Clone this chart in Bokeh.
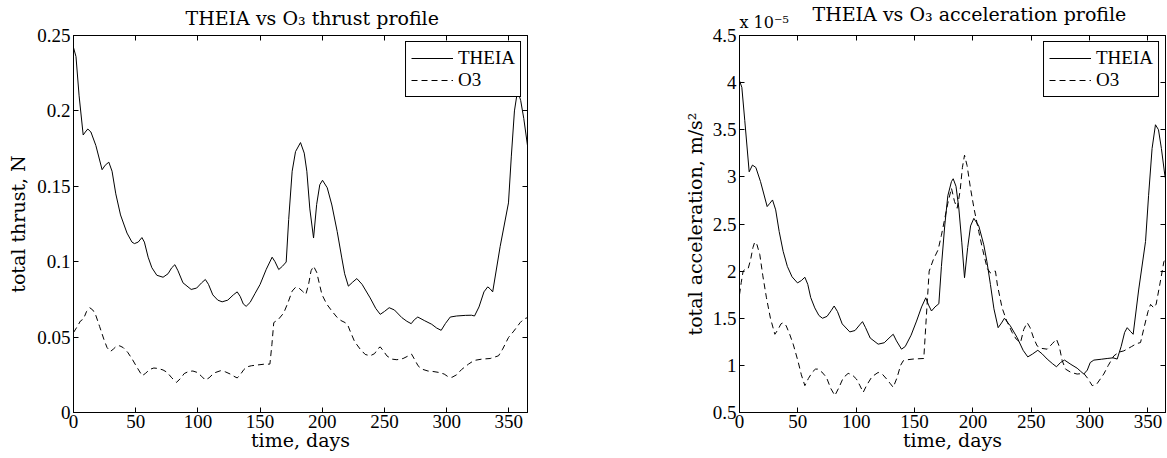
from bokeh.plotting import figure
from bokeh.layouts import row
from bokeh.models import (Range1d, FixedTicker, CustomJSTickFormatter, LinearAxis,
                          Legend, LegendItem)
from bokeh.embed import file_html
from bokeh.resources import INLINE

# ---------------- data ----------------
theia_thrust_day = [0, 2, 4.5, 7.8, 9.5, 11.5, 14, 18, 23, 25.5, 28.4, 31, 34, 37.8, 43, 47, 49, 52, 55, 57, 60, 63, 67, 72, 76, 79, 81.5, 84, 88, 94.6, 99, 103, 106, 108.5, 112, 116, 119.5, 124, 128.5, 131.6, 134, 136.5, 138.8, 142, 146, 150, 155, 159.7, 162, 165, 168, 171, 173, 175.8, 178.5, 182.5, 185.5, 187.6, 190, 193, 195.5, 198, 200.2, 204, 207.7, 212, 215.7, 218, 221, 224.5, 227.8, 232, 238.5, 243, 246.6, 250, 253.8, 258, 264, 268, 271.5, 274, 276.8, 282, 288, 292, 295.6, 299, 302.9, 308, 315, 320, 322.4, 326, 330, 333, 335, 337, 343, 349.7, 352, 354.5, 357, 359.5, 362, 365]
theia_thrust = [0.242, 0.236, 0.21, 0.184, 0.186, 0.188, 0.186, 0.177, 0.161, 0.164, 0.166, 0.16, 0.145, 0.131, 0.119, 0.113, 0.112, 0.113, 0.116, 0.113, 0.103, 0.096, 0.091, 0.0897, 0.092, 0.096, 0.098, 0.094, 0.086, 0.0816, 0.0825, 0.086, 0.0882, 0.085, 0.078, 0.0745, 0.0734, 0.0745, 0.078, 0.080, 0.077, 0.072, 0.0704, 0.073, 0.079, 0.0849, 0.095, 0.103, 0.100, 0.0948, 0.097, 0.0998, 0.128, 0.160, 0.173, 0.179, 0.172, 0.160, 0.135, 0.1157, 0.138, 0.151, 0.154, 0.149, 0.1376, 0.12, 0.1025, 0.092, 0.0838, 0.0865, 0.0888, 0.085, 0.076, 0.069, 0.0651, 0.067, 0.0695, 0.068, 0.0629, 0.0605, 0.0589, 0.0615, 0.0633, 0.061, 0.0585, 0.056, 0.0545, 0.059, 0.0633, 0.064, 0.0644, 0.0645, 0.064, 0.070, 0.080, 0.0833, 0.082, 0.080, 0.11, 0.139, 0.17, 0.20, 0.2135, 0.207, 0.195, 0.177]

o3_thrust_day = [0, 3, 5.6, 8, 10.5, 13, 15.5, 17.7, 21, 24.4, 27, 29.7, 32, 34.5, 37.2, 40, 43.5, 47.2, 51, 55.2, 58, 61, 64.6, 68, 72, 75.3, 79, 82.8, 86, 89, 92.7, 96, 99.4, 103, 106, 109, 113, 118.2, 122, 126, 129, 131.6, 134, 137, 139.6, 143, 147.7, 153, 157.9, 159.5, 161, 165, 169, 172.5, 175.8, 178.5, 181, 184, 186.8, 189, 191, 193, 195.5, 199.7, 203.5, 207.7, 212, 215, 218.4, 220.5, 222.4, 226, 230.5, 234.5, 238.5, 242, 245, 246.6, 249, 252, 255.9, 260, 265, 269.3, 271.8, 274, 277, 280, 285, 289, 293.5, 298, 301, 304.2, 308, 312, 317.6, 322, 328.3, 335, 341.7, 345, 349.7, 354, 359.1, 362, 365]
o3_thrust = [0.053, 0.057, 0.0607, 0.062, 0.067, 0.0695, 0.068, 0.065, 0.057, 0.0486, 0.043, 0.0405, 0.042, 0.044, 0.0442, 0.043, 0.04, 0.0354, 0.03, 0.0244, 0.026, 0.0285, 0.0295, 0.0292, 0.0282, 0.0266, 0.023, 0.020, 0.0225, 0.0258, 0.0273, 0.0275, 0.0266, 0.024, 0.0215, 0.023, 0.0262, 0.0277, 0.027, 0.0255, 0.024, 0.0229, 0.025, 0.0285, 0.0303, 0.031, 0.0315, 0.032, 0.0321, 0.045, 0.0596, 0.062, 0.066, 0.073, 0.0805, 0.083, 0.0827, 0.0805, 0.0783, 0.085, 0.094, 0.097, 0.093, 0.0783, 0.072, 0.0673, 0.063, 0.061, 0.0596, 0.058, 0.054, 0.047, 0.042, 0.0385, 0.0376, 0.039, 0.0425, 0.0435, 0.041, 0.0375, 0.0354, 0.035, 0.0358, 0.0376, 0.0387, 0.0355, 0.031, 0.0288, 0.0275, 0.0272, 0.0266, 0.0255, 0.0238, 0.0233, 0.025, 0.0285, 0.0321, 0.0345, 0.0354, 0.0358, 0.0376, 0.042, 0.0497, 0.054, 0.0596, 0.062, 0.0629]

# acceleration values in units of 1e-5 m/s^2
theia_acc_day = [0, 2, 4.5, 8.3, 11.1, 14, 18, 23.7, 26, 28.3, 31, 34, 37.4, 41, 45, 49.7, 53, 56, 58.5, 61, 64.5, 68, 71.1, 75, 78.5, 81.1, 84, 88, 94.5, 99, 103, 105.4, 108, 112, 118.8, 124, 129, 131.7, 134.5, 138.8, 142, 147, 151.7, 156, 159.6, 162, 164.5, 167.5, 170.8, 173, 175.9, 178.5, 181.6, 183.1, 185.5, 187.9, 190.5, 192.8, 195.5, 198, 200.8, 205, 209.3, 212, 215, 218, 221.6, 224.5, 227, 232, 237.9, 243, 247, 251, 255.6, 259.5, 263.6, 268, 271.6, 275, 278.5, 284, 289.3, 292, 295, 298, 300.5, 303.6, 310, 315, 320, 323.6, 327, 330, 332.2, 335, 337.3, 342, 347.9, 350.5, 353.5, 356.4, 359, 361.5, 364.4, 365]
theia_acc = [4.02, 3.95, 3.6, 3.054, 3.125, 3.1, 2.95, 2.685, 2.72, 2.755, 2.65, 2.42, 2.21, 2.05, 1.94, 1.875, 1.9, 1.935, 1.86, 1.72, 1.61, 1.53, 1.50, 1.52, 1.58, 1.63, 1.57, 1.44, 1.355, 1.37, 1.43, 1.464, 1.4, 1.29, 1.225, 1.24, 1.3, 1.33, 1.26, 1.172, 1.2, 1.32, 1.47, 1.62, 1.717, 1.64, 1.577, 1.62, 1.654, 2.05, 2.49, 2.8, 2.95, 2.98, 2.9, 2.67, 2.3, 1.93, 2.25, 2.48, 2.56, 2.48, 2.28, 2.1, 1.858, 1.6, 1.40, 1.45, 1.50, 1.42, 1.295, 1.16, 1.09, 1.12, 1.16, 1.12, 1.067, 1.02, 0.985, 1.03, 1.056, 1.01, 0.97, 0.94, 0.908, 0.95, 1.03, 1.056, 1.065, 1.073, 1.08, 1.067, 1.2, 1.35, 1.40, 1.36, 1.33, 1.8, 2.315, 2.8, 3.3, 3.553, 3.5, 3.3, 3.02, 2.98]

o3_acc_day = [0, 1.5, 3.1, 5, 7.4, 9.5, 11.5, 13.1, 15, 17.4, 20, 23.1, 26.5, 30.3, 33, 35.5, 37.4, 40, 43, 46, 50, 53, 56, 59, 62.5, 65, 67.4, 70.5, 74.5, 78, 81.7, 85, 89, 93.1, 96.5, 100.2, 103, 106, 109, 113.5, 118.8, 122.5, 126, 129, 131.7, 135, 138, 140.3, 144, 148.8, 153, 157.9, 160, 162.5, 166, 170.2, 173, 175.9, 178.5, 181.6, 184.2, 186.5, 189, 191, 192.8, 195, 197.9, 201, 205, 208.5, 212.2, 215, 217.5, 219.3, 221, 225, 229, 233.6, 237, 240.8, 243.5, 246.5, 249, 252, 255, 259, 263.6, 268, 271.6, 274, 276.5, 279.3, 284, 289.3, 295, 298.5, 302.2, 306, 312.1, 316, 320.7, 325, 329.3, 336, 340, 343.6, 347, 350, 352.2, 355, 357, 360, 363.6, 365]
o3_acc = [1.75, 1.88, 2.0, 2.02, 2.027, 2.12, 2.25, 2.31, 2.28, 2.175, 1.95, 1.717, 1.5, 1.33, 1.38, 1.44, 1.453, 1.42, 1.33, 1.225, 1.05, 0.9, 0.785, 0.86, 0.93, 0.96, 0.961, 0.93, 0.873, 0.76, 0.68, 0.76, 0.87, 0.915, 0.9, 0.855, 0.79, 0.714, 0.79, 0.88, 0.925, 0.905, 0.856, 0.81, 0.767, 0.87, 1.0, 1.049, 1.06, 1.067, 1.07, 1.073, 1.5, 2.0, 2.12, 2.227, 2.38, 2.56, 2.72, 2.88, 2.74, 2.667, 2.85, 3.1, 3.23, 3.12, 2.88, 2.66, 2.42, 2.22, 2.03, 1.98, 2.0, 2.0, 1.85, 1.61, 1.47, 1.35, 1.28, 1.242, 1.38, 1.453, 1.4, 1.29, 1.207, 1.18, 1.172, 1.23, 1.278, 1.2, 1.05, 0.961, 0.925, 0.908, 0.915, 0.86, 0.785, 0.8, 0.908, 1.0, 1.10, 1.14, 1.154, 1.2, 1.23, 1.242, 1.42, 1.57, 1.647, 1.61, 1.65, 1.85, 2.10, 2.12]

x_ticks = [0, 50, 100, 150, 200, 250, 300, 350]
thrust_ticks = [0, 0.05, 0.1, 0.15, 0.2, 0.25]
acc_ticks = [0.5, 1, 1.5, 2, 2.5, 3, 3.5, 4, 4.5]

TICK_FONT = "Liberation Serif"
LABEL_FONT = "DejaVu Serif"

fmt_code = "return String(Math.round(tick*1000)/1000);"


def base_axis(ax, ticks):
    ax.ticker = FixedTicker(ticks=ticks)
    ax.formatter = CustomJSTickFormatter(code=fmt_code)
    ax.major_tick_in = 5
    ax.major_tick_out = 0
    ax.minor_tick_line_color = None
    ax.axis_line_color = "black"
    ax.axis_line_width = 1
    ax.major_tick_line_color = "black"
    ax.major_label_text_font = TICK_FONT
    ax.major_label_text_color = "black"
    ax.major_label_text_font_size = "19px"
    ax.major_label_standoff = 3
    ax.axis_label_text_font = LABEL_FONT
    ax.axis_label_text_font_style = "normal"
    ax.axis_label_text_font_size = "19px"
    ax.axis_label_text_color = "black"


def mirror_axis(ticks):
    ax = LinearAxis()
    base_axis(ax, ticks)
    ax.major_label_text_color = None
    return ax


def make_fig(title, width, bl, br, yr, yticks, ylabel, xs1, ys1, xs2, ys2,
             title_off, ylabel_standoff):
    p = figure(width=width, height=458, output_backend="svg", toolbar_location=None,
               x_range=Range1d(0, 365), y_range=Range1d(*yr),
               min_border_left=bl, min_border_right=br, min_border_top=33,
               min_border_bottom=46, title=title)
    p.grid.visible = False
    p.outline_line_color = "black"
    p.title.text_font = LABEL_FONT
    p.title.text_font_size = "19px"
    p.title.text_font_style = "normal"
    p.title.text_color = "black"
    p.title.align = "left"
    p.title.offset = title_off
    base_axis(p.xaxis[0], x_ticks)
    base_axis(p.yaxis[0], yticks)
    p.xaxis[0].axis_label = "time, days"
    p.xaxis[0].axis_label_standoff = -2
    p.xaxis[0].major_label_standoff = 2
    p.yaxis[0].axis_label = ylabel
    p.yaxis[0].axis_label_standoff = ylabel_standoff
    p.add_layout(mirror_axis(yticks), "right")
    p.add_layout(mirror_axis(x_ticks), "above")

    r1 = p.line(xs1, ys1, line_color="black", line_width=1)
    r2 = p.line(xs2, ys2, line_color="black", line_width=1, line_dash="6 4")
    legend = Legend(items=[LegendItem(label="THEIA", renderers=[r1]),
                           LegendItem(label="O3", renderers=[r2])],
                    location="top_right", margin=6, padding=5, spacing=0,
                    glyph_width=42, glyph_height=20, label_height=20, label_standoff=5,
                    label_text_font=TICK_FONT, label_text_font_size="19px",
                    label_text_color="black",
                    border_line_color="black", border_line_width=1, border_line_alpha=1,
                    background_fill_color="white", background_fill_alpha=1)
    p.add_layout(legend)
    return p


p1 = make_fig("THEIA vs O\u2083 thrust profile", 547, 73, 20, (0, 0.25), thrust_ticks,
              "total thrust, N", theia_thrust_day, theia_thrust, o3_thrust_day, o3_thrust,
              112, 5)
p1.title.vertical_align = "top"
p1.title.standoff = 9

p2 = make_fig("THEIA vs O\u2083 acceleration profile", 620, 192, 2, (0.5, 4.5), acc_ticks,
              "total acceleration, m/s\u00b2", theia_acc_day, theia_acc, o3_acc_day, o3_acc,
              73, 4)
top2 = p2.above[0]
top2.axis_label = "x 10\u207b\u2075"
top2.axis_label_align = "start"
top2.axis_label_orientation = 0.0
top2.axis_label_standoff = 13
top2.axis_label_text_font_size = "16px"
p2.title.standoff = -49

layout = row(p1, p2)
open("out.html", "w").write(file_html(layout, INLINE))
